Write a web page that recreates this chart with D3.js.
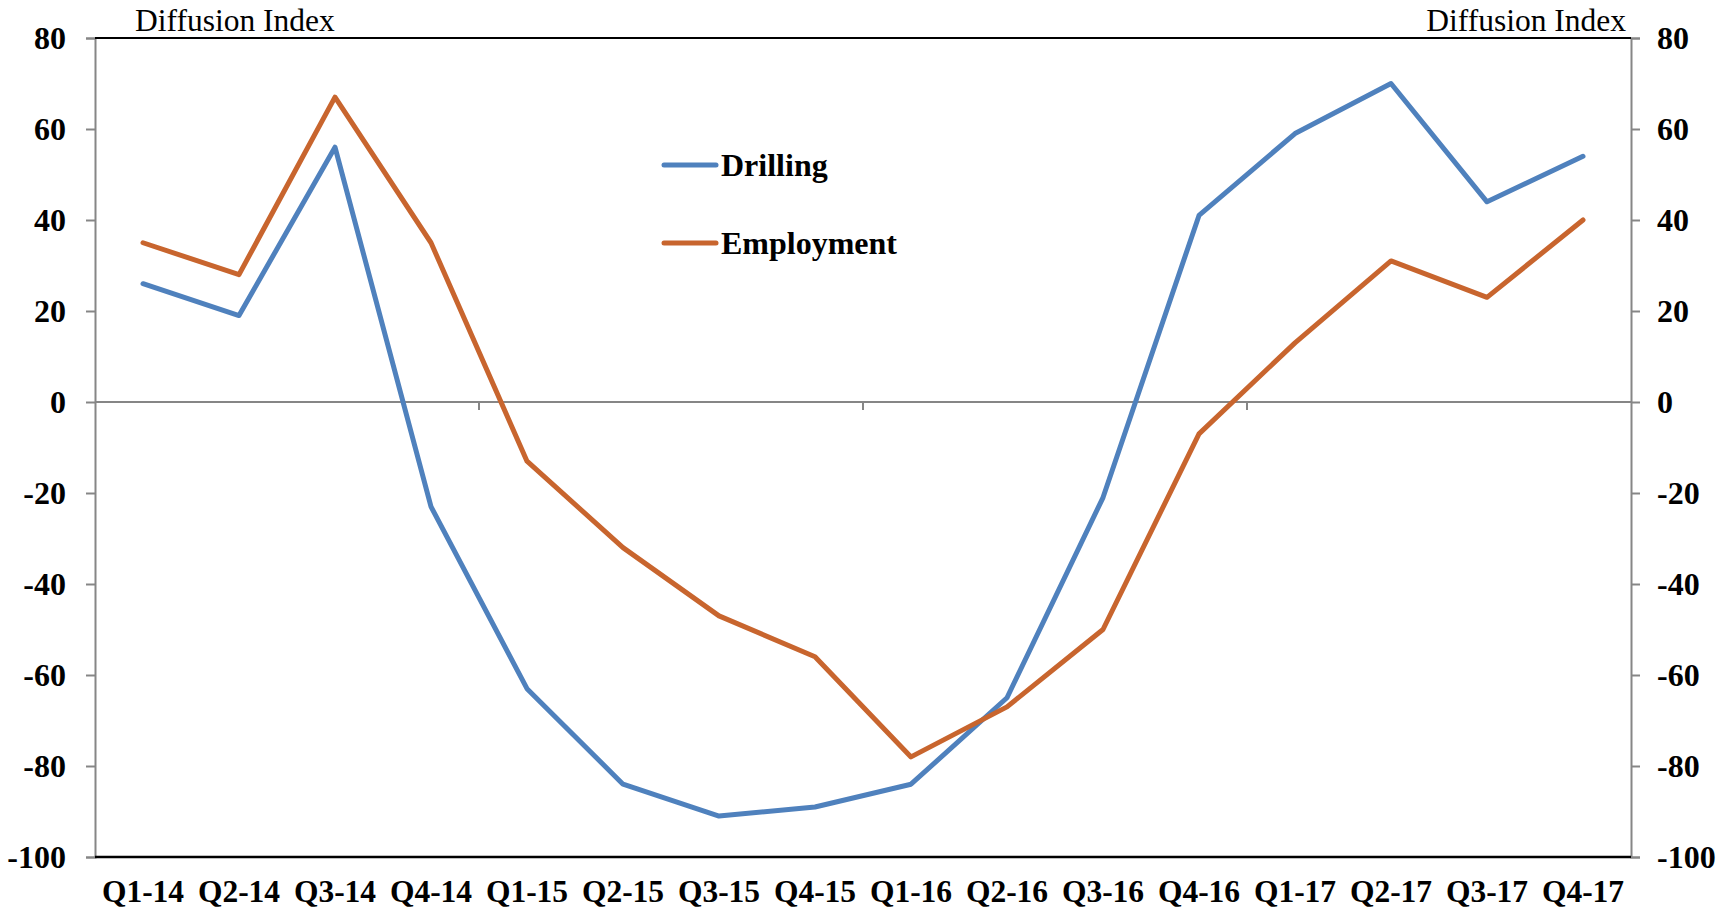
<!DOCTYPE html>
<html>
<head>
<meta charset="utf-8">
<script src="https://cdn.jsdelivr.net/npm/d3@7"></script>
<style>
  html, body { margin: 0; padding: 0; background: #fff; }
  svg { display: block; }
  text { font-family: "Liberation Serif", "Times New Roman", serif; fill: #000; }
</style>
</head>
<body>
<svg id="chart" width="1734" height="910"></svg>
<script>
// Quarterly diffusion index readings
const quarters = ["Q1-14","Q2-14","Q3-14","Q4-14","Q1-15","Q2-15","Q3-15","Q4-15",
                  "Q1-16","Q2-16","Q3-16","Q4-16","Q1-17","Q2-17","Q3-17","Q4-17"];
const drilling   = [26, 19, 56, -23, -63, -84, -91, -89, -84, -65, -21, 41, 59, 70, 44, 54];
const employment = [35, 28, 67, 35, -13, -32, -47, -56, -78, -67, -50, -7, 13, 31, 23, 40];
const yTicks = [80, 60, 40, 20, 0, -20, -40, -60, -80, -100];
const seriesNames = ["Drilling", "Employment"];
const seriesColors = ["#4F81BD", "#C8652E"];
const axisTitle = "Diffusion Index";

const serif = '"Liberation Serif", "Times New Roman", serif';
const svg = d3.select("#chart");
const plotLeft = 95, plotRight = 1631, plotTop = 38, plotBottom = 857;

const x = d3.scaleBand().domain(quarters).range([plotLeft, plotRight]).padding(0);
const y = d3.scaleLinear().domain([-100, 80]).range([plotBottom, plotTop]);
const grey = "#868686";
const fmt = d => String(d);   // plain hyphen-minus for negatives

// Left value axis
const yl = svg.append("g").attr("transform", `translate(${plotLeft},0)`)
  .call(d3.axisLeft(y).tickValues(yTicks).tickSize(9).tickPadding(20).tickFormat(fmt));
// Right value axis
const yr = svg.append("g").attr("transform", `translate(${plotRight},0)`)
  .call(d3.axisRight(y).tickValues(yTicks).tickSize(9).tickPadding(17).tickFormat(fmt));
[yl, yr].forEach(g => {
  g.attr("font-family", serif).attr("font-size", 32);
  g.select(".domain").attr("stroke", grey).attr("stroke-width", 2);
  g.selectAll(".tick line").attr("stroke", grey).attr("stroke-width", 2);
  g.selectAll(".tick text")
    .style("font-family", serif)
    .style("font-size", "32px").style("font-weight", "bold").attr("fill", "#000")
    .attr("dy", "0.34em");
});

// Frame top and bottom edges
svg.append("line").attr("x1", plotLeft).attr("x2", plotRight).attr("y1", plotTop).attr("y2", plotTop)
  .attr("stroke", "#000").attr("stroke-width", 2);
svg.append("line").attr("x1", plotLeft).attr("x2", plotRight).attr("y1", plotBottom).attr("y2", plotBottom)
  .attr("stroke", "#000").attr("stroke-width", 2.5);

// Zero category axis with tick marks every four quarters
svg.append("line").attr("x1", plotLeft).attr("x2", plotRight).attr("y1", y(0)).attr("y2", y(0))
  .attr("stroke", grey).attr("stroke-width", 2);
const tickQuarters = quarters.filter((q, i) => i > 0 && i % 4 === 0);
svg.append("g").selectAll("line").data(tickQuarters).join("line")
  .attr("x1", d => x(d)).attr("x2", d => x(d))
  .attr("y1", y(0)).attr("y2", y(0) + 8)
  .attr("stroke", grey).attr("stroke-width", 2);

// Category labels below the plot
svg.append("g").selectAll("text").data(quarters).join("text")
  .attr("x", d => x(d) + x.bandwidth() / 2)
  .attr("y", 902)
  .attr("text-anchor", "middle")
  .style("font-size", "31.5px").style("font-weight", "bold")
  .text(d => d);

// Axis titles
svg.append("text").attr("x", 135).attr("y", 31).style("font-size", "31.5px").text(axisTitle);
svg.append("text").attr("x", 1626).attr("y", 31).attr("text-anchor", "end")
  .style("font-size", "31.5px").text(axisTitle);

// Series lines
const line = d3.line()
  .x((d, i) => x(quarters[i]) + x.bandwidth() / 2)
  .y(d => y(d));
[drilling, employment].forEach((vals, k) => {
  svg.append("path").datum(vals)
    .attr("d", line)
    .attr("fill", "none")
    .attr("stroke", seriesColors[k])
    .attr("stroke-width", 5)
    .attr("stroke-linejoin", "round")
    .attr("stroke-linecap", "round");
});

// Legend
const legendY = [165, 243];
const lg = svg.append("g");
seriesNames.forEach((name, k) => {
  lg.append("line").attr("x1", 664).attr("x2", 716)
    .attr("y1", legendY[k]).attr("y2", legendY[k])
    .attr("stroke", seriesColors[k]).attr("stroke-width", 5).attr("stroke-linecap", "round");
  lg.append("text").attr("x", 721).attr("y", legendY[k] + 11)
    .style("font-size", "32px").style("font-weight", "bold").text(name);
});
</script>
</body>
</html>
